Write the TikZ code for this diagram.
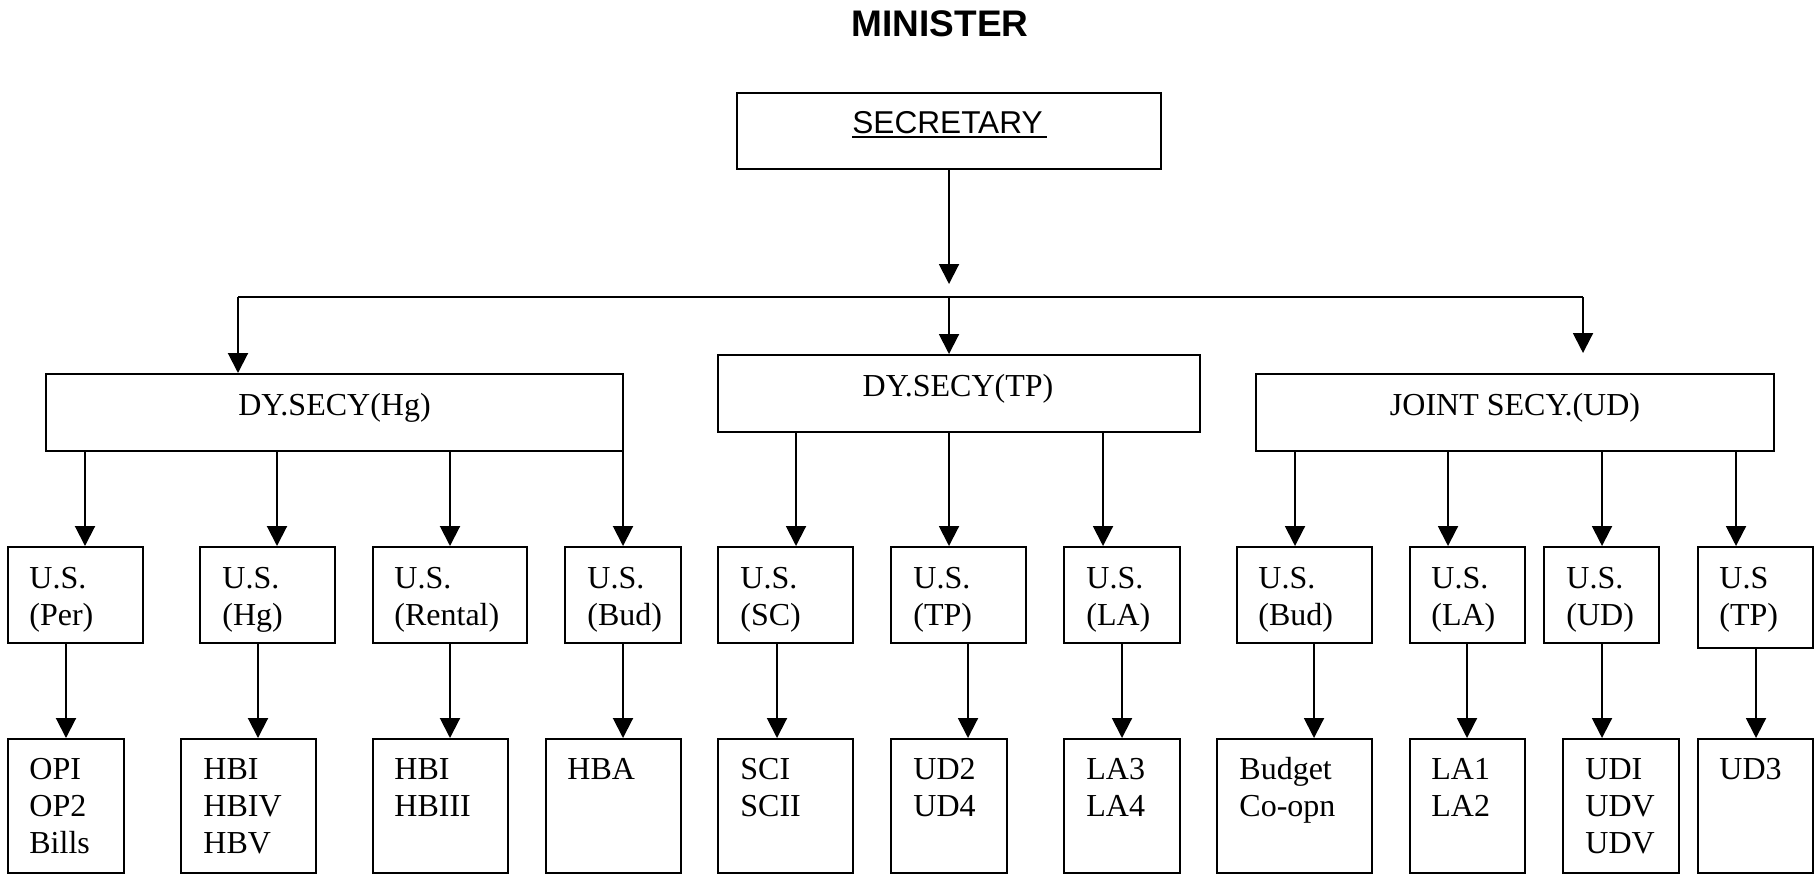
\documentclass[tikz,border=0pt]{standalone}
\usepackage{fontspec}
\setmainfont{Liberation Serif}
\newfontfamily\arialfont{Liberation Sans}
\usetikzlibrary{arrows.meta,fit}
\newcommand\mlines[1]{\begin{tabular}[t]{@{}l@{}}#1\end{tabular}}
\newcommand\conn[3]{\path (#3,0) coordinate (tmpx); \draw[arr] (#1.south -| tmpx) -- (#2.north -| tmpx);}
\begin{document}
\begin{tikzpicture}[x=0.5pt,y=-0.5pt,
  box/.style={draw=black,line width=1pt,inner sep=0pt},
  arr/.style={line width=1pt,-{Triangle[length=10pt,width=10pt]}},
  txt/.style={inner sep=0pt,font=\fontsize{16pt}{18.5pt}\selectfont},
  ln/.style={line width=1pt}]
\useasboundingbox (0,0) rectangle (1818,874);
% title
\node[inner sep=0pt,anchor=base,font=\arialfont\bfseries\fontsize{18.5pt}{22pt}\selectfont] (minister) at (940,36) {MINISTER};
% secretary
\node[box,fit={(737,93) (1161,169)}] (sec) {};
\node[inner sep=0pt,anchor=base west,font=\arialfont\fontsize{15.8pt}{18pt}\selectfont] (sect) at (852,133) {SECRETARY};
\draw[ln] ([yshift=-2pt]sect.base west) -- ++(195,0);
\coordinate (secend) at (949,284);
\draw[arr] (sec.south) -- (secend);
% bus
\coordinate (busL) at (238,297);
\coordinate (busM) at (949,297);
\coordinate (busR) at (1583,297);
\coordinate (jsend) at (1583,353);
\draw[ln] (busL) -- (busR);
% level 2
\node[box,fit={(46,374) (623,451)}] (dyhg) {};
\node[txt,anchor=base] (dyhgt) at (334.5,415) {DY.SECY(Hg)};
\node[box,fit={(718,355) (1200,432)}] (dytp) {};
\node[txt,anchor=base] (dytpt) at (958,396) {DY.SECY(TP)};
\node[box,fit={(1256,374) (1774,451)}] (js) {};
\node[txt,anchor=base] (jst) at (1515,415) {JOINT SECY.(UD)};
\draw[arr] (busL) -- (dyhg.north -| busL);
\draw[arr] (busM) -- (dytp.north -| busM);
\draw[arr] (busR) -- (jsend);
% level 3 boxes
\node[box,fit={(8,547) (143,643)}] (u1) {};
\node[txt,anchor=base west] (u1t) at (29,588) {\mlines{U.S.\\(Per)}};
\node[box,fit={(200,547) (335,643)}] (u2) {};
\node[txt,anchor=base west] (u2t) at (222,588) {\mlines{U.S.\\(Hg)}};
\node[box,fit={(373,547) (527,643)}] (u3) {};
\node[txt,anchor=base west] (u3t) at (394,588) {\mlines{U.S.\\(Rental)}};
\node[box,fit={(565,547) (681,643)}] (u4) {};
\node[txt,anchor=base west] (u4t) at (587,588) {\mlines{U.S.\\(Bud)}};
\node[box,fit={(718,547) (853,643)}] (u5) {};
\node[txt,anchor=base west] (u5t) at (740,588) {\mlines{U.S.\\(SC)}};
\node[box,fit={(891,547) (1026,643)}] (u6) {};
\node[txt,anchor=base west] (u6t) at (913,588) {\mlines{U.S.\\(TP)}};
\node[box,fit={(1064,547) (1180,643)}] (u7) {};
\node[txt,anchor=base west] (u7t) at (1086,588) {\mlines{U.S.\\(LA)}};
\node[box,fit={(1237,547) (1372,643)}] (u8) {};
\node[txt,anchor=base west] (u8t) at (1258,588) {\mlines{U.S.\\(Bud)}};
\node[box,fit={(1410,547) (1525,643)}] (u9) {};
\node[txt,anchor=base west] (u9t) at (1431,588) {\mlines{U.S.\\(LA)}};
\node[box,fit={(1544,547) (1659,643)}] (u10) {};
\node[txt,anchor=base west] (u10t) at (1566,588) {\mlines{U.S.\\(UD)}};
\node[box,fit={(1698,547) (1813,648)}] (u11) {};
\node[txt,anchor=base west] (u11t) at (1719,588) {\mlines{U.S\\(TP)}};
% level 2 -> 3
\conn{dyhg}{u1}{85}
\conn{dyhg}{u2}{277}
\conn{dyhg}{u3}{450}
\conn{dyhg}{u4}{623}
\conn{dytp}{u5}{796}
\conn{dytp}{u6}{949}
\conn{dytp}{u7}{1103}
\conn{js}{u8}{1295}
\conn{js}{u9}{1448}
\conn{js}{u10}{1602}
\conn{js}{u11}{1736}
% level 4 boxes
\node[box,fit={(8,739) (124,872.5)}] (b1) {};
\node[txt,anchor=base west] (b1t) at (29,779) {\mlines{OPI\\OP2\\Bills}};
\node[box,fit={(181,739) (316,872.5)}] (b2) {};
\node[txt,anchor=base west] (b2t) at (203,779) {\mlines{HBI\\HBIV\\HBV}};
\node[box,fit={(373,739) (508,872.5)}] (b3) {};
\node[txt,anchor=base west] (b3t) at (394,779) {\mlines{HBI\\HBIII}};
\node[box,fit={(546,739) (681,872.5)}] (b4) {};
\node[txt,anchor=base west] (b4t) at (567,779) {HBA};
\node[box,fit={(718,739) (853,872.5)}] (b5) {};
\node[txt,anchor=base west] (b5t) at (740,779) {\mlines{SCI\\SCII}};
\node[box,fit={(891,739) (1007,872.5)}] (b6) {};
\node[txt,anchor=base west] (b6t) at (913,779) {\mlines{UD2\\UD4}};
\node[box,fit={(1064,739) (1180,872.5)}] (b7) {};
\node[txt,anchor=base west] (b7t) at (1086,779) {\mlines{LA3\\LA4}};
\node[box,fit={(1217,739) (1372,872.5)}] (b8) {};
\node[txt,anchor=base west] (b8t) at (1239,779) {\mlines{Budget\\Co-opn}};
\node[box,fit={(1410,739) (1525,872.5)}] (b9) {};
\node[txt,anchor=base west] (b9t) at (1431,779) {\mlines{LA1\\LA2}};
\node[box,fit={(1563,739) (1679,872.5)}] (b10) {};
\node[txt,anchor=base west] (b10t) at (1585,779) {\mlines{UDI\\UDV\\UDV}};
\node[box,fit={(1698,739) (1813,872.5)}] (b11) {};
\node[txt,anchor=base west] (b11t) at (1719,779) {UD3};
% level 3 -> 4
\conn{u1}{b1}{66}
\conn{u2}{b2}{258}
\conn{u3}{b3}{450}
\conn{u4}{b4}{623}
\conn{u5}{b5}{777}
\conn{u6}{b6}{968}
\conn{u7}{b7}{1122}
\conn{u8}{b8}{1314}
\conn{u9}{b9}{1467}
\conn{u10}{b10}{1602}
\conn{u11}{b11}{1756}
\end{tikzpicture}
\end{document}
